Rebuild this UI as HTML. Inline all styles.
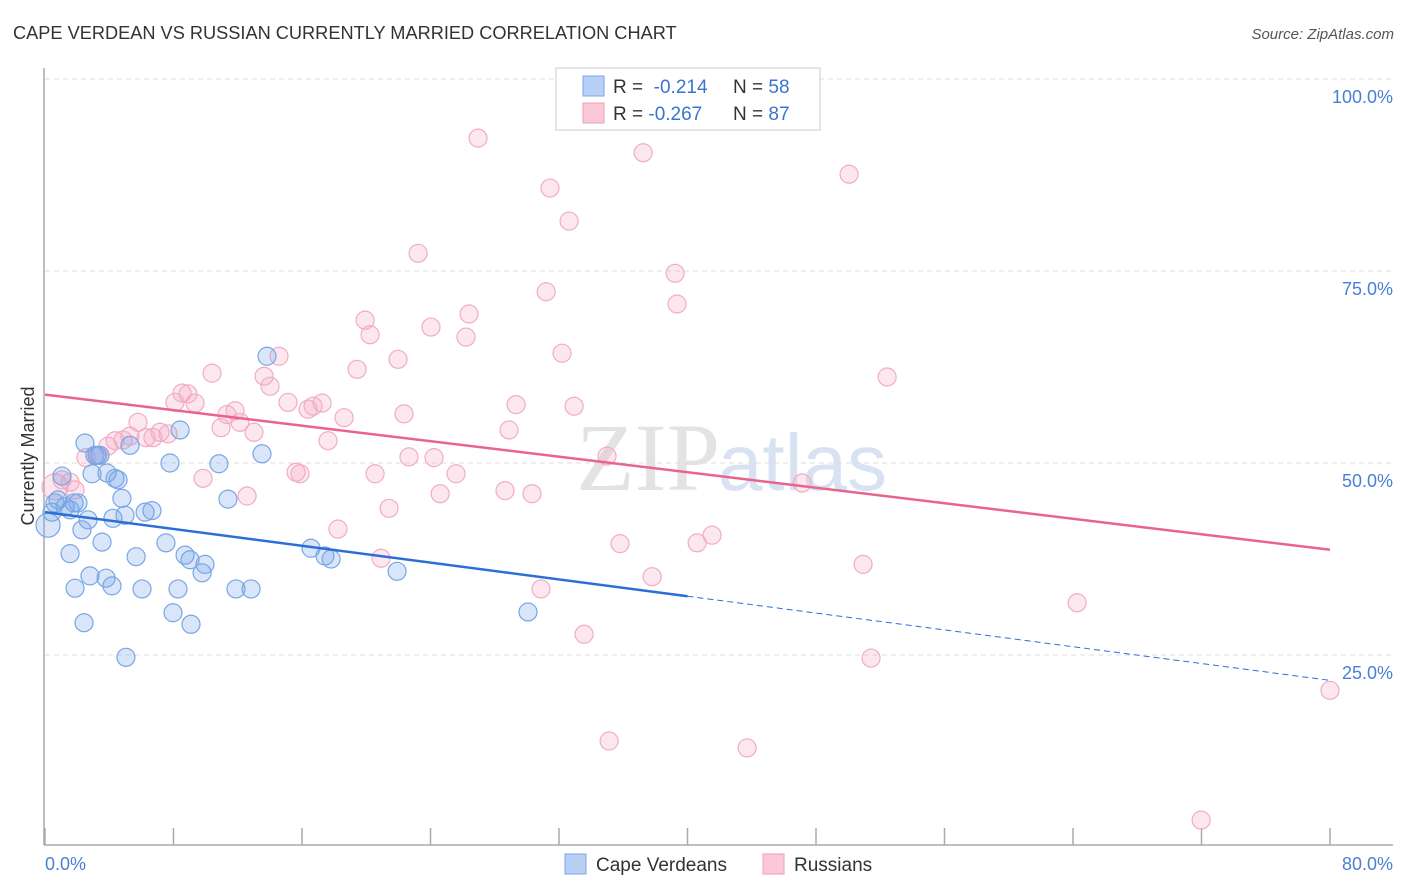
<!DOCTYPE html>
<html><head><meta charset="utf-8"><style>
body{margin:0;background:#fff;font-family:"Liberation Sans",sans-serif}
#c{position:relative;width:1406px;height:892px;overflow:hidden}
</style></head><body>
<div id="c">
<svg id="s" width="1406" height="892" xmlns="http://www.w3.org/2000/svg">
<text x="13" y="39" font-size="18.2" fill="#333">CAPE VERDEAN VS RUSSIAN CURRENTLY MARRIED CORRELATION CHART</text>
<text x="1394" y="39" font-size="15" fill="#555" font-style="italic" text-anchor="end">Source: ZipAtlas.com</text>
<text x="720" y="490" font-size="96" fill="#ddd" font-family="Liberation Serif,serif" text-anchor="end" opacity="0.8">ZIP</text>
<text x="718" y="490" font-size="80" fill="#cfdcf0" opacity="0.8">atlas</text>
<g id="grid"></g><g id="marks"></g>
<text transform="translate(34,456) rotate(-90)" font-size="18" fill="#333" text-anchor="middle">Currently Married</text>
<text x="45" y="870" font-size="18" fill="#4a7fd6">0.0%</text>
<text x="1393" y="870" font-size="18" fill="#4a7fd6" text-anchor="end">80.0%</text>
<rect x="556" y="68" width="264" height="62" fill="#fff" stroke="#ccc"/>
<rect x="583" y="76" width="21" height="20" fill="#b8d0f5" stroke="#7aa5e6"/>
<rect x="583" y="103" width="21" height="20" fill="#fac8d6" stroke="#ee9fb8"/>
<text x="613" y="93" font-size="19" fill="#333">R = <tspan fill="#3a74d0">&#160;-0.214</tspan><tspan x="733">N = </tspan><tspan fill="#3a74d0">58</tspan></text>
<text x="613" y="120" font-size="19" fill="#333">R = <tspan fill="#3a74d0">-0.267</tspan><tspan x="733">N = </tspan><tspan fill="#3a74d0">87</tspan></text>
<rect x="565" y="854" width="21" height="20" fill="#b8d0f5" stroke="#7aa5e6"/>
<text x="596" y="871" font-size="19" fill="#333">Cape Verdeans</text>
<rect x="763" y="854" width="21" height="20" fill="#fac8d6" stroke="#ee9fb8"/>
<text x="794" y="871" font-size="19" fill="#333">Russians</text>
</svg></div>
<script>
const blueX=[0.19,0.44,0.62,0.81,1.06,1.25,1.56,1.81,2.05,2.49,2.68,2.93,3.11,3.24,3.42,1.56,1.87,2.30,2.43,2.80,3.55,3.86,3.80,4.17,4.36,4.55,4.79,4.98,4.23,5.04,5.29,5.67,6.04,6.23,6.66,7.53,7.78,7.97,8.28,8.41,8.72,9.03,9.09,9.78,9.96,10.83,11.39,11.89,12.83,13.51,13.82,16.56,17.43,17.81,21.92,30.07];
const blueY=[41.9,43.6,44.8,45.2,48.3,44.3,43.9,44.8,44.8,52.6,42.6,48.6,51.0,51.0,51.0,38.2,33.7,41.3,29.2,35.3,39.7,48.7,35.0,34.0,48.0,47.8,45.4,43.2,42.8,24.7,52.3,37.8,33.6,43.6,43.8,39.6,50.0,30.5,33.6,54.3,38.0,37.4,29.0,35.7,36.8,49.9,45.3,33.6,33.6,51.2,63.9,38.9,37.9,37.5,35.9,30.6];
const pinkX=[0.62,1.06,1.56,1.87,2.55,3.30,3.92,4.36,4.86,5.29,5.79,6.29,6.72,7.16,7.66,8.09,8.53,8.90,9.34,9.84,10.40,10.96,11.33,11.83,12.14,12.58,13.01,13.64,14.01,14.57,15.13,15.63,15.88,16.38,16.69,17.25,17.62,18.24,18.62,19.43,19.93,20.24,20.55,20.92,21.42,21.98,22.35,22.66,23.23,24.03,24.22,24.60,25.59,26.21,26.40,26.96,28.64,28.89,29.33,30.32,30.88,31.20,31.44,32.19,32.63,32.94,33.56,34.99,35.12,35.80,37.24,37.80,39.23,39.35,40.60,41.53,43.71,47.14,50.06,50.93,51.43,52.43,64.26,71.98,80.0];
const pinkY=[46.9,47.8,47.5,46.5,50.7,51.0,52.2,52.9,53.0,53.5,55.3,53.3,53.3,54.0,53.8,57.9,59.1,59.0,57.8,48.0,61.7,54.6,56.3,56.8,55.3,45.7,54.0,61.3,60.0,63.9,57.9,48.8,48.6,57.0,57.4,57.8,52.9,41.4,55.9,62.2,68.6,66.7,48.6,37.6,44.1,63.5,56.4,50.8,77.3,67.7,50.7,46.0,48.6,66.4,69.4,92.3,46.4,54.3,57.6,46.0,33.6,72.3,85.8,64.3,81.5,57.4,27.7,50.9,13.8,39.5,90.4,35.2,74.7,70.7,39.6,40.6,12.9,47.4,87.6,36.8,24.6,61.2,31.8,3.5,20.4];
const blueTrend=[43.6,21.7];
const pinkTrend=[58.9,38.7];
const yTicks=[25,50,75,100];
const xTickVals=[0,8,16,24,32,40,48,56,64,72,80];
const NS="http://www.w3.org/2000/svg";
const sx=v=>45+v*1285/80, sy=v=>847-v*7.68;
function mk(t,a,p){const e=document.createElementNS(NS,t);for(const k in a)e.setAttribute(k,a[k]);p.appendChild(e);return e;}
const g=document.getElementById('grid'), m=document.getElementById('marks');
let ax=mk('line',{x1:44,y1:68,x2:44,y2:845,stroke:'#aaa','stroke-width':1.5},g);


let bx=mk('line',{x1:44,y1:845,x2:1393,y2:845,stroke:'#aaa','stroke-width':1.5},g);


yTicks.forEach(v=>{
 const l=mk('line',{x1:45,x2:1393,y1:sy(v),y2:sy(v),stroke:'#ddd','stroke-dasharray':'5,4'},g);
 
 
 const t=mk('text',{x:1393,y:sy(v)+24,'font-size':18,fill:'#4a7fd6','text-anchor':'end'},g);
 t.textContent=v.toFixed(1)+'%';
 
 
});
xTickVals.forEach(v=>{
 const l=mk('line',{x1:sx(v),x2:sx(v),y1:828,y2:845,stroke:'#aaa','stroke-width':1.5},g);
 
 
});
pinkX.forEach((x,i)=>{
 const c=mk('circle',{cx:sx(x),cy:sy(pinkY[i]),r:i==0?13:9,fill:'rgba(246,170,196,0.28)',stroke:'#f2acc2','stroke-width':1.2},m);
 
 
});
blueX.forEach((x,i)=>{
 const c=mk('circle',{cx:sx(x),cy:sy(blueY[i]),r:i==0?12:9,fill:'rgba(120,166,232,0.28)',stroke:'#78a6e4','stroke-width':1.2},m);
 
 
});
const by=x=>blueTrend[0]+(blueTrend[1]-blueTrend[0])*x/80;
let t1=mk('line',{x1:sx(0),y1:sy(by(0)),x2:sx(40),y2:sy(by(40)),stroke:'#2b6fd6','stroke-width':2.5},m);


let t2=mk('line',{x1:sx(40),y1:sy(by(40)),x2:sx(80),y2:sy(by(80)),stroke:'#2b6fd6','stroke-width':1,'stroke-dasharray':'6,4'},m);


let t3=mk('line',{x1:sx(0),y1:sy(pinkTrend[0]),x2:sx(80),y2:sy(pinkTrend[1]),stroke:'#e8648f','stroke-width':2.5},m);


</script>
</body></html>
